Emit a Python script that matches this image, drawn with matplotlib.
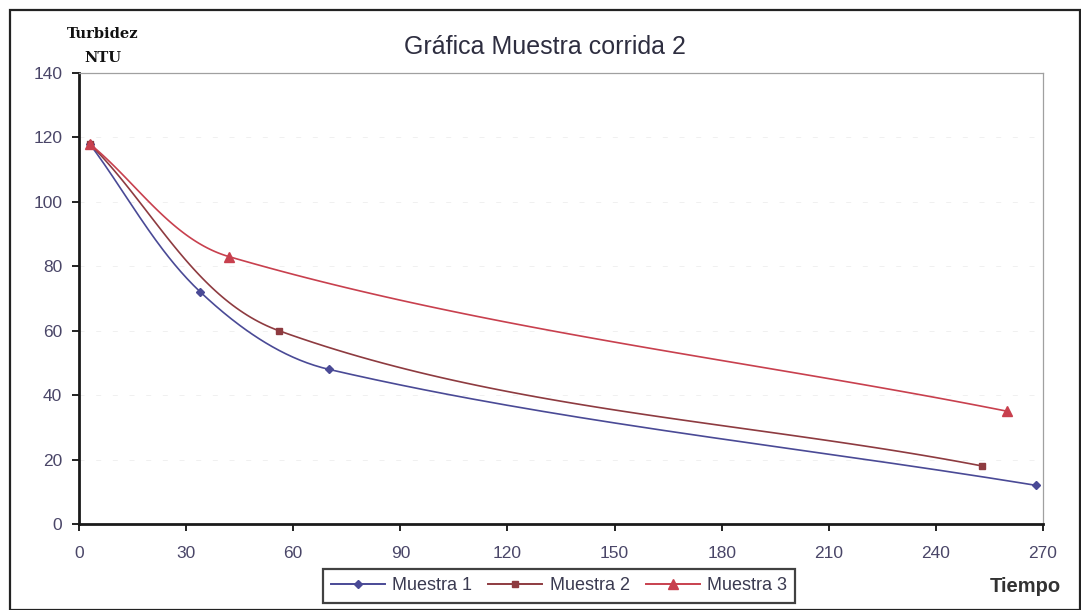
import numpy as np
import matplotlib.pyplot as plt
from matplotlib.patches import Rectangle
from matplotlib.lines import Line2D

# tiempo (min) y turbidez (NTU) por muestra
t_m1 = [3, 34, 70, 268]
ntu_m1 = [118, 72, 48, 12]
t_m2 = [3, 56, 253]
ntu_m2 = [118, 60, 18]
t_m3 = [3, 42, 260]
ntu_m3 = [118, 83, 35]

series_names = ["Muestra 1", "Muestra 2", "Muestra 3"]
xticks = [0, 30, 60, 90, 120, 150, 180, 210, 240, 270]
yticks = [0, 20, 40, 60, 80, 100, 120, 140]

XMAX, YMAX = 270, 140
AX_W, AX_H = 964, 451  # tamano del area de trazado en px


def _unit(v):
    n = np.hypot(*v)
    return v / n if n > 0 else v


def smooth(x, y, n=60):
    # linea suavizada con tramos Bezier, calculada en espacio de pantalla;
    # la tangente sigue a los vecinos y su largo se limita a 1/3 del tramo
    p = np.column_stack([np.asarray(x, float) / XMAX * AX_W,
                         np.asarray(y, float) / YMAX * AX_H])
    pts = [p[0]]
    for i in range(len(p) - 1):
        p0 = p[i - 1] if i > 0 else p[i]
        p1, p2 = p[i], p[i + 1]
        p3 = p[i + 2] if i + 2 < len(p) else p[i + 1]
        L = np.hypot(*(p2 - p1)) / 3.0
        c1 = p1 + _unit(p2 - p0) * L
        c2 = p2 - _unit(p3 - p1) * L
        s = np.linspace(0, 1, n)[1:, None]
        seg = ((1 - s) ** 3) * p1 + 3 * ((1 - s) ** 2) * s * c1 + 3 * (1 - s) * s ** 2 * c2 + s ** 3 * p2
        pts.extend(seg)
    pts = np.array(pts)
    return pts[:, 0] / AX_W * XMAX, pts[:, 1] / AX_H * YMAX


plt.rcParams['font.family'] = ['Liberation Sans', 'DejaVu Sans']

fig = plt.figure(figsize=(10.81, 6.10), dpi=100)
ax = fig.add_axes([79 / 1081, 1 - 524 / 610, AX_W / 1081, AX_H / 610])

styles = [
    (t_m1, ntu_m1, "#4a4a96", "D", 4.5),
    (t_m2, ntu_m2, "#8e3b40", "s", 5),
    (t_m3, ntu_m3, "#c8404e", "^", 7.5),
]
handles = []
for (tx, ty, col, mk, ms), name in zip(styles, series_names):
    sx, sy = smooth(tx, ty)
    ax.plot(sx, sy, color=col, lw=1.2, zorder=3)
    ax.plot(tx, ty, ls="none", marker=mk, ms=ms, color=col, zorder=4)
    handles.append(Line2D([], [], color=col, lw=1.4, marker=mk, ms=ms, label=name))

ax.set_xlim(0, XMAX)
ax.set_ylim(0, YMAX)
ax.set_xticks(xticks)
ax.set_yticks(yticks)
ax.tick_params(colors="#222222", labelcolor="#4a4668", labelsize=12.5, length=5, width=1.4, direction="out")
ax.tick_params(axis="x", pad=11)
ax.tick_params(axis="y", pad=7)
ax.yaxis.grid(True, color="#eeeeee", lw=0.6, ls=(0, (6, 14)))
for s in ["left", "bottom"]:
    ax.spines[s].set_color("#1a1a1a")
    ax.spines[s].set_linewidth(2.0)
for s in ["top", "right"]:
    ax.spines[s].set_color("#a0a0a0")
    ax.spines[s].set_linewidth(0.9)

fig.text(545 / 1081, 1 - 47 / 610, "Gráfica Muestra corrida 2", ha="center", va="center",
         fontsize=18, color="#2e2e40")
fig.text(103 / 1081, 1 - 34 / 610, "Turbidez", ha="center", va="center", fontsize=10.5,
         fontweight="bold", color="#111111", family="DejaVu Serif")
fig.text(103 / 1081, 1 - 58 / 610, "NTU", ha="center", va="center", fontsize=10.5,
         fontweight="bold", color="#111111", family="DejaVu Serif")
fig.text(1025 / 1081, 1 - 586 / 610, "Tiempo", ha="center", va="center", fontsize=14.5,
         color="#333333", fontweight="semibold")

leg = fig.legend(handles=handles, loc="center", bbox_to_anchor=(559 / 1081, 1 - 586 / 610), ncol=3,
                 frameon=True, fancybox=False, edgecolor="#111111", fontsize=13, handlelength=3,
                 columnspacing=0.9, handletextpad=0.4, borderpad=0.45, labelcolor="#3a3a50")
leg.get_frame().set_linewidth(1.6)

# marco exterior del grafico
fig.patches.append(Rectangle((10 / 1081, 0), 1 - 10 / 1081 - 0.001, 1 - 10 / 610, transform=fig.transFigure,
                             fill=False, edgecolor="#222222", lw=1.6))

fig.savefig("out.png", dpi=100)
